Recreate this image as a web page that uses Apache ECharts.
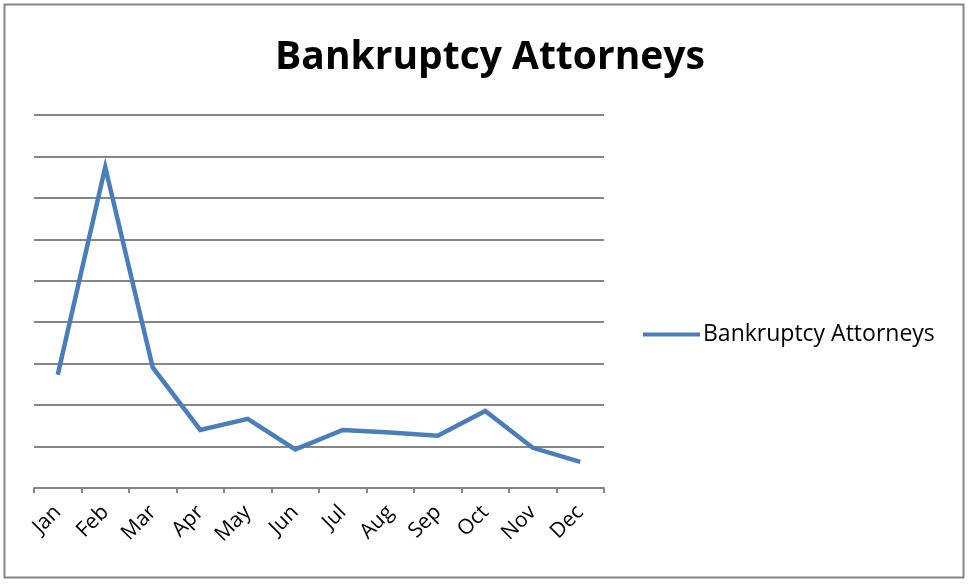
<!DOCTYPE html>
<html>
<head>
<meta charset="utf-8">
<script src="https://cdn.jsdelivr.net/npm/echarts@6/dist/echarts.min.js"></script>
<style>
html,body{margin:0;padding:0;background:#fff;}
#chart{width:970px;height:584px;}
</style>
</head>
<body>
<div id="chart"></div>
<script>
const chartTitle = 'Bankruptcy Attorneys';
const seriesName = 'Bankruptcy Attorneys';
const months = ['Jan','Feb','Mar','Apr','May','Jun','Jul','Aug','Sep','Oct','Nov','Dec'];
const values = [2.73, 7.74, 2.91, 1.40, 1.67, 0.93, 1.40, 1.34, 1.26, 1.86, 0.97, 0.63];
const yMin = 0, yMax = 9, yStep = 1;

const chart = echarts.init(document.getElementById('chart'));
chart.setOption({
  backgroundColor: '#ffffff',
  animation: false,
  title: {
    text: chartTitle,
    left: 485,
    textAlign: 'center',
    top: 33,
    textStyle: { fontFamily: '"Open Sans", sans-serif', fontWeight: 'bold', fontSize: 39, color: '#000' }
  },
  legend: {
    data: [seriesName],
    left: 638,
    top: 318,
    icon: 'rect',
    itemWidth: 57,
    itemHeight: 4,
    itemGap: 0,
    textStyle: { fontFamily: 'Open Sans, Noto Sans, sans-serif', fontSize: 23, color: '#000', padding: [0,0,0,-2] }
  },
  grid: { left: 34, right: 366, top: 115, bottom: 96, containLabel: false },
  xAxis: {
    type: 'category',
    data: months,
    boundaryGap: true,
    axisLine: { show: true, lineStyle: { color: '#868686', width: 2 } },
    axisTick: { show: true, length: 5, lineStyle: { color: '#868686', width: 2 } },
    axisLabel: { rotate: 45, color: '#000', fontSize: 21, fontFamily: 'Open Sans, Noto Sans, sans-serif', margin: 21, interval: 0 }
  },
  yAxis: {
    type: 'value',
    min: yMin, max: yMax, interval: yStep,
    axisLine: { show: false },
    axisTick: { show: false },
    axisLabel: { show: false },
    splitLine: { show: true, lineStyle: { color: '#868686', width: 2 } }
  },
  series: [{
    name: seriesName,
    type: 'line',
    data: values,
    symbol: 'none',
    lineStyle: { color: '#4A7EBB', width: 4.5, join: 'miter' },
    itemStyle: { color: '#4A7EBB' }
  }],
  graphic: [{
    type: 'rect',
    shape: { x: 4.5, y: 4.5, width: 959, height: 573 },
    style: { fill: 'none', stroke: '#868686', lineWidth: 2 },
    silent: true
  }]
});
</script>
</body>
</html>
